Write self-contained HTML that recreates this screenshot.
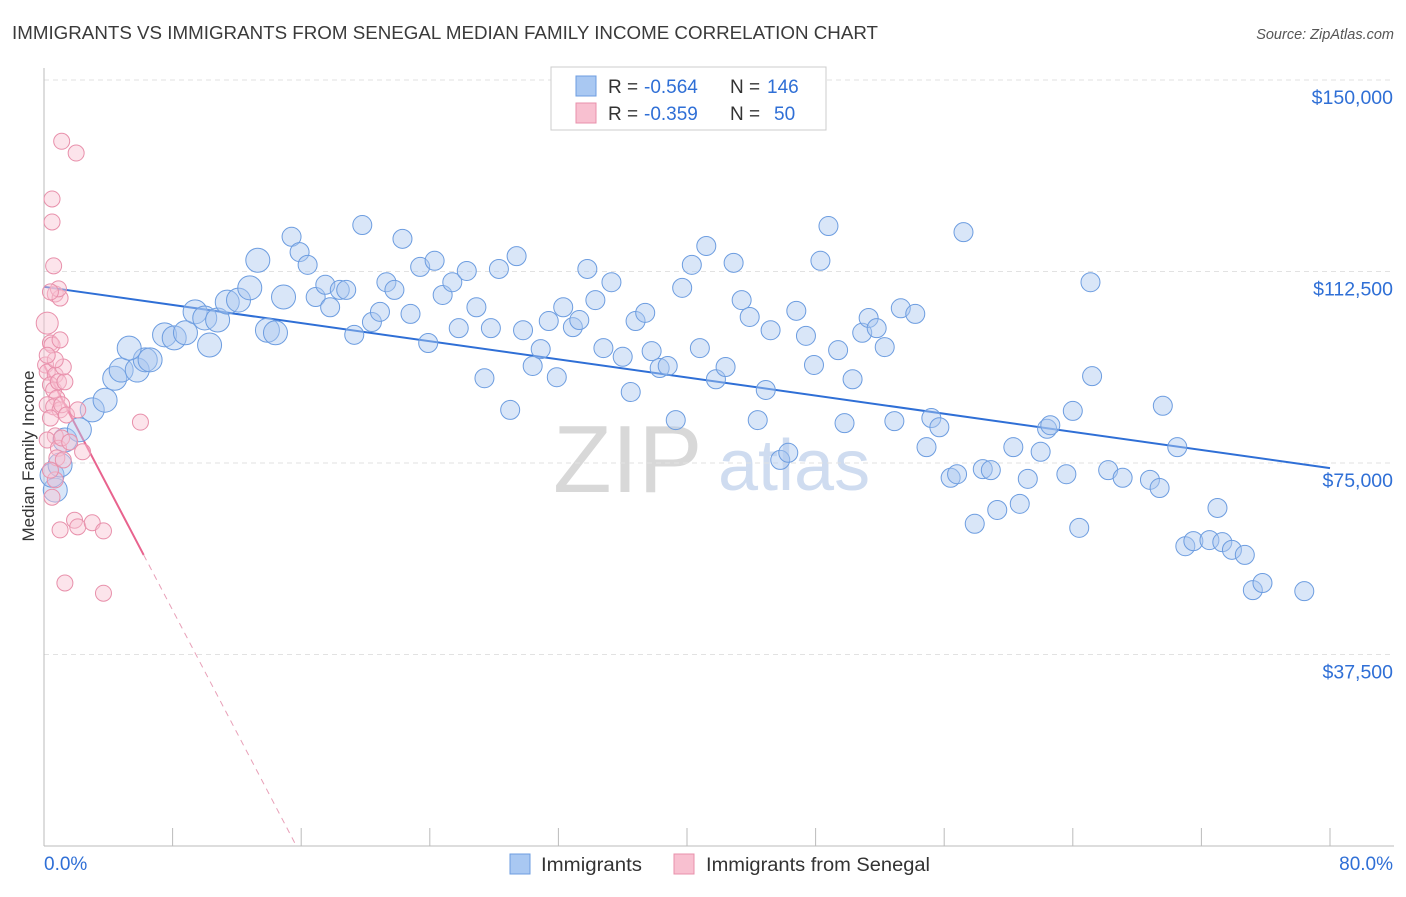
<!DOCTYPE html>
<html><head><meta charset="utf-8"><style>
body{margin:0;background:#fff;font-family:"Liberation Sans",sans-serif;}
svg text{font-family:"Liberation Sans",sans-serif;}
</style></head><body>
<svg id="chart" width="1406" height="892" viewBox="0 0 1406 892" xmlns="http://www.w3.org/2000/svg">
<text x="12" y="39" font-size="18" fill="#3a3a3a" textLength="866" lengthAdjust="spacingAndGlyphs">IMMIGRANTS VS IMMIGRANTS FROM SENEGAL MEDIAN FAMILY INCOME CORRELATION CHART</text>
<text x="1394" y="39" font-size="14.5" fill="#555" text-anchor="end" font-style="italic">Source: ZipAtlas.com</text>
<text x="553" y="492" font-size="96" fill="#d8d8d8" font-family="Liberation Serif, serif">ZIP</text>
<text x="718" y="490" font-size="72" fill="#cfdcf0">atlas</text>
<text transform="translate(34,456) rotate(-90)" font-size="17" fill="#333" text-anchor="middle">Median Family Income</text>
<g id="grid"></g><g id="axes"></g><g id="trend"></g><g id="pts"></g>
<g>
<rect x="551" y="67" width="275" height="63" fill="#fff" stroke="#ccc"/>
<rect x="576" y="76" width="20" height="20" fill="#a9c8f2" stroke="#6d9de0"/>
<rect x="576" y="103" width="20" height="20" fill="#f8c0d0" stroke="#e890ab"/>
<text x="608" y="93" font-size="19" fill="#333">R =</text>
<text x="644" y="93" font-size="19" fill="#2f6fd6">-0.564</text>
<text x="730" y="93" font-size="19" fill="#333">N =</text>
<text x="767" y="93" font-size="19" fill="#2f6fd6">146</text>
<text x="608" y="120" font-size="19" fill="#333">R =</text>
<text x="644" y="120" font-size="19" fill="#2f6fd6">-0.359</text>
<text x="730" y="120" font-size="19" fill="#333">N =</text>
<text x="774" y="120" font-size="19" fill="#2f6fd6">50</text>
</g>
<g>
<rect x="510" y="854" width="20" height="20" fill="#a9c8f2" stroke="#6d9de0"/>
<text x="541" y="871" font-size="19" fill="#333" textLength="101" lengthAdjust="spacingAndGlyphs">Immigrants</text>
<rect x="674" y="854" width="20" height="20" fill="#f8c0d0" stroke="#e890ab"/>
<text x="706" y="871" font-size="19" fill="#333" textLength="224" lengthAdjust="spacingAndGlyphs">Immigrants from Senegal</text>
</g>
</svg>
<script>
const yTicks=[37500,75000,112500,150000];
const yTickLabels=["$37,500","$75,000","$112,500","$150,000"];
const xTickLabels=["0.0%","80.0%"];
const blueX=[0.7,0.5,1.0,1.3,2.2,3.0,3.8,4.4,4.8,5.8,6.3,6.6,5.3,7.5,8.1,8.8,9.4,10.0,10.3,10.8,11.4,12.1,12.8,13.3,13.9,14.4,14.9,15.4,15.9,16.4,16.9,17.5,17.8,18.4,18.8,19.3,19.8,20.4,20.9,21.3,21.8,22.3,22.8,23.4,23.9,24.3,24.8,25.4,25.8,26.3,26.9,27.4,27.8,28.3,29.0,29.4,29.8,30.4,30.9,31.4,31.9,32.3,32.9,33.3,33.8,34.3,34.8,35.3,36.0,36.5,36.8,37.4,37.8,38.3,38.8,39.3,39.7,40.3,40.8,41.2,41.8,42.4,42.9,43.4,43.9,44.4,44.9,45.2,45.8,46.3,46.8,47.4,47.9,48.3,48.8,49.4,49.8,50.3,50.9,51.3,51.8,52.3,52.9,53.3,54.2,54.9,55.2,55.7,56.4,56.8,57.2,57.9,58.4,58.9,59.3,60.3,60.7,61.2,62.0,62.4,62.6,63.6,64.0,64.4,65.1,65.2,66.2,67.1,68.8,69.4,69.6,70.5,71.0,71.5,72.5,73.0,73.3,73.9,74.7,75.2,75.8,78.4];
const blueY=[69.7,72.6,74.6,79.5,81.5,85.4,87.3,91.6,93.2,93.2,95.2,95.2,97.5,100.1,99.5,100.5,104.6,103.4,98.1,103.0,106.5,106.9,109.3,114.7,101.0,100.5,107.5,119.3,116.3,113.8,107.5,109.9,105.5,108.9,108.9,100.1,121.6,102.6,104.6,110.4,108.9,118.9,104.2,113.4,98.5,114.6,107.9,110.4,101.4,112.6,105.5,91.6,101.4,113.0,85.4,115.5,101.0,94.0,97.3,102.8,91.8,105.5,101.6,103.0,113.0,106.9,97.5,110.4,95.8,88.9,102.8,104.4,96.9,93.6,94.0,83.4,109.3,113.8,97.5,117.5,91.4,93.8,114.2,106.9,103.6,83.4,89.3,101.0,75.6,77.0,104.8,99.9,94.2,114.6,121.4,97.1,82.8,91.4,100.5,103.4,101.4,97.7,83.2,105.3,104.2,78.1,83.8,82.0,72.1,72.8,120.2,63.1,73.8,73.6,65.8,78.1,67.0,71.9,77.2,81.7,82.4,72.8,85.2,62.3,110.4,92.0,73.6,72.1,71.7,70.1,86.2,78.1,58.7,59.7,59.9,66.2,59.5,58.0,57.0,50.1,51.5,49.9];
const pinkX=[0.2,0.4,0.5,0.1,0.2,0.7,0.4,0.6,0.9,0.8,0.2,0.6,1.0,1.3,1.1,1.4,0.4,0.7,0.2,0.9,1.1,1.6,2.1,2.4,0.8,1.2,0.5,1.0,1.9,2.1,3.0,3.7,1.3,3.7,6.0,1.1,2.0,0.5,0.5,0.6,0.7,1.0,0.9,0.4,1.0,1.2,0.7,0.2,0.7,0.4];
const pinkY=[102.4,98.5,98.1,94.2,92.8,92.2,90.3,89.3,90.9,87.7,86.4,86.0,85.4,90.9,86.4,84.4,83.8,80.3,79.5,77.9,79.9,79.1,85.4,77.2,76.0,75.6,68.3,61.9,63.8,62.5,63.3,61.7,51.5,49.5,83.0,138.0,135.7,126.7,122.2,113.6,108.1,107.3,109.1,108.5,99.1,93.8,95.2,96.1,71.7,73.6];
const blueTrend=[109.5,74.0];
const pinkTrend=[94.2,-6.0];
const NS="http://www.w3.org/2000/svg";
const X=p=>44+p*16.075;
const Y=v=>463-(v-75000)/37500*191.5;
function mk(tag,attrs,parent){const e=document.createElementNS(NS,tag);for(const k in attrs)e.setAttribute(k,attrs[k]);document.getElementById(parent).appendChild(e);return e;}
yTicks.forEach((t,i)=>{
 const l=mk('line',{x1:44,x2:1394,y1:Y(t),y2:Y(t),stroke:'#e2e2e2','stroke-dasharray':'5,4'},'grid');
 
 
 const tx=mk('text',{x:1393,y:Y(t)+24,'font-size':19.5,fill:'#2f6fd6','text-anchor':'end'},'axes');
 tx.textContent=yTickLabels[i];
 
 
});
const ax=mk('line',{x1:44,x2:44,y1:68,y2:846,stroke:'#bbb'},'axes');


const bx=mk('line',{x1:44,x2:1394,y1:846,y2:846,stroke:'#bbb'},'axes');


for(let i=0;i<=10;i++){
 const tk=mk('line',{x1:X(i*8),x2:X(i*8),y1:828,y2:846,stroke:'#bbb'},'axes');
 
 
}
const xl0=mk('text',{x:44,y:870,'font-size':19,fill:'#2f6fd6'},'axes');xl0.textContent=xTickLabels[0];


const xl1=mk('text',{x:1393,y:870,'font-size':19,fill:'#2f6fd6','text-anchor':'end'},'axes');xl1.textContent=xTickLabels[1];


blueX.forEach((p,i)=>{
 const c=mk('circle',{cx:X(p),cy:Y(blueY[i]*1000),r:p<15?12:9.5,fill:'rgba(170,200,240,0.45)',stroke:'#6d9de0','stroke-width':1},'pts');
 
 
});
pinkX.forEach((p,i)=>{
 const c=mk('circle',{cx:X(p),cy:Y(pinkY[i]*1000),r:i===0?11:8,fill:'rgba(248,195,210,0.45)',stroke:'#e890ab','stroke-width':1},'pts');
 
 
});
const bt=mk('line',{x1:X(0),y1:Y(blueTrend[0]*1000),x2:X(80),y2:Y(blueTrend[1]*1000),stroke:'#2f6fd6','stroke-width':2},'trend');


const pe=6.2, pz=-pinkTrend[0]/pinkTrend[1];
const pt=mk('line',{x1:X(0),y1:Y(pinkTrend[0]*1000),x2:X(pe),y2:Y((pinkTrend[0]+pinkTrend[1]*pe)*1000),stroke:'#e8638e','stroke-width':2},'trend');


const pd=mk('line',{x1:X(pe),y1:Y((pinkTrend[0]+pinkTrend[1]*pe)*1000),x2:X(pz),y2:Y(0),stroke:'#e8a0b8','stroke-width':1,'stroke-dasharray':'6,5'},'trend');


</script>
</body></html>
